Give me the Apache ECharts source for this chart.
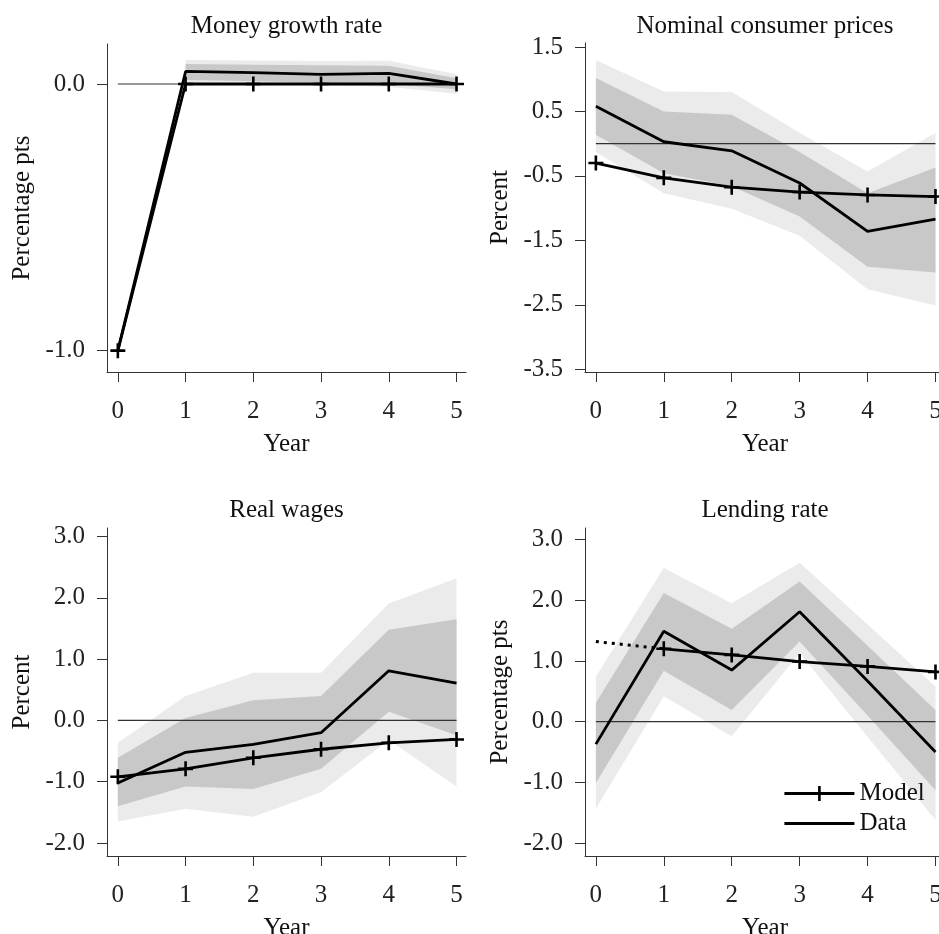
<!DOCTYPE html>
<html>
<head>
<meta charset="utf-8">
<script src="https://cdn.jsdelivr.net/npm/echarts@6/dist/echarts.min.js"></script>
<style>
  html, body { margin: 0; padding: 0; background: #fff; }
  #main { width: 939px; height: 934px; }
</style>
</head>
<body>
<div id="main"></div>
<script>
const years = [0, 1, 2, 3, 4, 5];

// Money growth rate
const moneyModel = [-1.0, 0.0, 0.0, 0.0, 0.0, 0.0];
const moneyData = [-1.0, 0.047, 0.043, 0.036, 0.040, 0.0];
const moneyHi95 = [null, 0.09, 0.088, 0.086, 0.087, 0.037];
const moneyHi68 = [null, 0.075, 0.072, 0.07, 0.068, 0.022];
const moneyLo68 = [null, 0.015, 0.01, 0.005, 0.0, -0.02];
const moneyLo95 = [null, 0.005, 0.0, -0.005, -0.01, -0.037];

// Nominal consumer prices
const pricesModel = [-0.30, -0.53, -0.675, -0.75, -0.795, -0.82];
const pricesData = [0.58, 0.03, -0.11, -0.61, -1.36, -1.17];
const pricesHi95 = [1.30, 0.81, 0.80, 0.17, -0.43, 0.165];
const pricesHi68 = [1.02, 0.50, 0.45, -0.13, -0.77, -0.37];
const pricesLo68 = [0.14, -0.46, -0.66, -1.13, -1.91, -2.0];
const pricesLo95 = [-0.13, -0.77, -1.01, -1.43, -2.26, -2.51];

// Real wages
const wagesModel = [-0.92, -0.79, -0.61, -0.47, -0.365, -0.31];
const wagesData = [-1.02, -0.52, -0.39, -0.20, 0.81, 0.61];
const wagesHi95 = [-0.365, 0.40, 0.78, 0.78, 1.91, 2.32];
const wagesHi68 = [-0.61, 0.04, 0.33, 0.40, 1.48, 1.65];
const wagesLo68 = [-1.40, -1.08, -1.12, -0.79, 0.14, -0.24];
const wagesLo95 = [-1.65, -1.44, -1.57, -1.17, -0.32, -1.08];

// Lending rate
const lendModel = [null, 1.20, 1.10, 0.99, 0.91, 0.82];
const lendModelPre = [1.32, 1.20];   // dotted piece, years 0-1
const lendData = [-0.37, 1.49, 0.85, 1.81, 0.67, -0.50];
const lendHi95 = [0.74, 2.53, 1.95, 2.62, 1.60, 0.58];
const lendHi68 = [0.31, 2.12, 1.53, 2.31, 1.25, 0.19];
const lendLo68 = [-1.01, 0.84, 0.19, 1.32, 0.10, -1.13];
const lendLo95 = [-1.43, 0.42, -0.24, 1.13, -0.25, -1.62];

const titles = ['Money growth rate', 'Nominal consumer prices', 'Real wages', 'Lending rate'];
const yNames = ['Percentage pts', 'Percent', 'Percent', 'Percentage pts'];
const yTicks = [
    [-1.0, 0.0],
    [-3.5, -2.5, -1.5, -0.5, 0.5, 1.5],
    [-2.0, -1.0, 0.0, 1.0, 2.0, 3.0],
    [-2.0, -1.0, 0.0, 1.0, 2.0, 3.0]
];
const yRanges = [[-1.08, 0.15], [-3.542, 1.562], [-2.212, 3.14], [-2.214, 3.191]];

const FONT = "'Liberation Serif', 'DejaVu Serif', serif";
const FS = 25;
const LIGHT = '#ebebeb';
const DARK = '#c8c8c8';
const PLUS = 'path://M6.2,0h2.6v6.2h6.2v2.6h-6.2v6.2h-2.6v-6.2h-6.2v-2.6h6.2z';

const grids = [
    {left: 107, top: 44, width: 359, height: 328, outerBoundsMode: 'none'},
    {left: 585, top: 43, width: 360, height: 329, outerBoundsMode: 'none'},
    {left: 107, top: 528, width: 359, height: 328, outerBoundsMode: 'none'},
    {left: 585, top: 528, width: 360, height: 328, outerBoundsMode: 'none'}
];

function pairs(vals, xs) {
    xs = xs || years;
    return xs.map((x, i) => [x, vals[i]]);
}

function band(gi, lo, hi, color, z) {
    const last = years.length - 1;
    return {
        type: 'custom', xAxisIndex: gi, yAxisIndex: gi, silent: true, z: z,
        data: years.map((x, i) => [x, lo[i], hi[i]]),
        encode: {x: 0, y: [1, 2]},
        renderItem: function (params, api) {
            if (params.dataIndex !== last) return;
            const top = [], bottom = [];
            years.forEach((x, i) => {
                if (lo[i] == null) return;
                top.push(api.coord([x, hi[i]]));
                bottom.unshift(api.coord([x, lo[i]]));
            });
            return {type: 'polygon', shape: {points: top.concat(bottom)}, style: {fill: color}};
        }
    };
}

function panelSeries(gi, model, data, lo95, hi95, lo68, hi68) {
    return [
        band(gi, lo95, hi95, LIGHT, 1),
        band(gi, lo68, hi68, DARK, 2),
        {
            type: 'line', xAxisIndex: gi, yAxisIndex: gi, silent: true, z: 3,
            data: pairs(years.map(() => 0)), symbol: 'none',
            lineStyle: {color: '#333', width: 1.2}
        },
        {
            name: 'Data', type: 'line', xAxisIndex: gi, yAxisIndex: gi, z: 4,
            data: pairs(data), symbol: 'none',
            itemStyle: {color: '#000'},
            lineStyle: {color: '#000', width: 2.8}
        },
        {
            name: 'Model', type: 'line', xAxisIndex: gi, yAxisIndex: gi, z: 5,
            data: pairs(model), symbol: PLUS, symbolSize: 15, showAllSymbol: true,
            itemStyle: {color: '#000'},
            lineStyle: {color: '#000', width: 2.8}
        }
    ];
}

let series = [];
series = series.concat(panelSeries(0, moneyModel, moneyData, moneyLo95, moneyHi95, moneyLo68, moneyHi68));
series = series.concat(panelSeries(1, pricesModel, pricesData, pricesLo95, pricesHi95, pricesLo68, pricesHi68));
series = series.concat(panelSeries(2, wagesModel, wagesData, wagesLo95, wagesHi95, wagesLo68, wagesHi68));
series = series.concat(panelSeries(3, lendModel, lendData, lendLo95, lendHi95, lendLo68, lendHi68));
series.push({
    type: 'line', xAxisIndex: 3, yAxisIndex: 3, z: 5, silent: true,
    data: pairs(lendModelPre, [0, 1]), symbol: 'none',
    lineStyle: {color: '#000', width: 3, type: [3, 5], cap: 'butt'}
});

const axisLine = {onZero: false, lineStyle: {color: '#333', width: 1}};
const axisTick = {length: 10, lineStyle: {color: '#333', width: 1}};

const xAxes = grids.map((g, i) => ({
    type: 'value', gridIndex: i, min: -0.16, max: 5.14,
    name: 'Year', nameLocation: 'middle', nameGap: 60,
    nameTextStyle: {fontFamily: FONT, fontSize: FS, color: '#111'},
    axisLine: axisLine,
    axisTick: Object.assign({customValues: years}, axisTick),
    axisLabel: {customValues: years, margin: 27, fontFamily: FONT, fontSize: FS, color: '#222',
        formatter: v => String(Math.round(v))},
    splitLine: {show: false}
}));

const yAxes = grids.map((g, i) => ({
    type: 'value', gridIndex: i, min: yRanges[i][0], max: yRanges[i][1],
    name: yNames[i], nameLocation: 'middle', nameGap: 72,
    nameTextStyle: {fontFamily: FONT, fontSize: FS, color: '#111'},
    axisLine: axisLine,
    axisTick: Object.assign({customValues: yTicks[i]}, axisTick),
    axisLabel: {customValues: yTicks[i], margin: 22, fontFamily: FONT, fontSize: FS, color: '#222',
        formatter: v => v.toFixed(1)},
    splitLine: {show: false}
}));

const titleText = grids.map((g, i) => ({
    type: 'text',
    x: g.left + (i % 2 === 0 ? 179.5 : 180),
    y: i < 2 ? 26 : 510,
    style: {
        text: titles[i], font: FS + 'px ' + FONT, fill: '#111',
        align: 'center', verticalAlign: 'middle',
        textAlign: 'center', textVerticalAlign: 'middle'
    }
}));

const chart = echarts.init(document.getElementById('main'));
chart.setOption({
    animation: false,
    backgroundColor: '#fff',
    grid: grids,
    xAxis: xAxes,
    yAxis: yAxes,
    graphic: titleText,
    legend: {
        left: 778, top: 776, orient: 'vertical',
        itemWidth: 70, itemHeight: 19, itemGap: 5,
        selectedMode: false,
        lineStyle: {width: 2.8, color: '#000'},
        data: [
            {name: 'Model'},
            {name: 'Data', itemStyle: {color: 'rgba(0,0,0,0)', borderColor: 'rgba(0,0,0,0)', borderWidth: 0}}
        ],
        textStyle: {fontFamily: FONT, fontSize: FS, color: '#111'}
    },
    series: series
});
</script>
</body>
</html>
